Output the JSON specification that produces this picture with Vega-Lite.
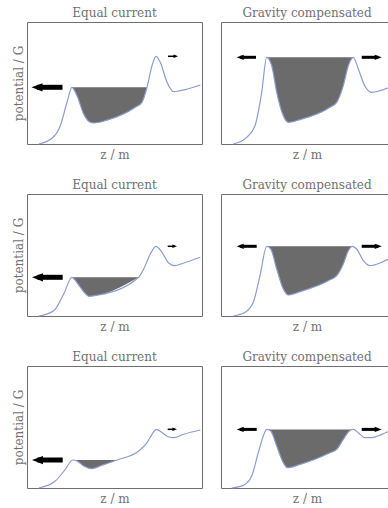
{
  "$schema": "https://vega.github.io/schema/vega-lite/v6.json",
  "background": "white",
  "padding": {"left": 11, "top": 6, "right": 0, "bottom": 0},
  "config": {
    "font": "DejaVu Serif",
    "view": {"stroke": "#6e6e6e", "strokeWidth": 1},
    "title": {"font": "DejaVu Serif", "fontSize": 12, "fontWeight": "normal", "color": "#707070", "offset": 2},
    "axis": {"domain": false, "ticks": false, "labels": false, "grid": false, "titleFont": "DejaVu Serif", "titleFontSize": 12, "titleFontWeight": "normal", "titleColor": "#707070"},
    "axisX": {"titlePadding": 5},
    "axisY": {"titlePadding": 2}
  },
  "datasets": {
    "curve": [
      {"p": "1L", "x": 11.7, "y": 0}, {"p": "1L", "x": 25, "y": 5.7}, {"p": "1L", "x": 33.3, "y": 18.3}, {"p": "1L", "x": 40, "y": 41.7}, {"p": "1L", "x": 45, "y": 56.7}, {"p": "1L", "x": 50, "y": 48.3}, {"p": "1L", "x": 56.7, "y": 30}, {"p": "1L", "x": 62.3, "y": 22.3}, {"p": "1L", "x": 67, "y": 21}, {"p": "1L", "x": 80, "y": 23.8}, {"p": "1L", "x": 108.3, "y": 36.7}, {"p": "1L", "x": 115, "y": 41.7}, {"p": "1L", "x": 120, "y": 56.7}, {"p": "1L", "x": 125, "y": 78.3}, {"p": "1L", "x": 129, "y": 87.7}, {"p": "1L", "x": 133.3, "y": 81.7}, {"p": "1L", "x": 140, "y": 61.7}, {"p": "1L", "x": 146.7, "y": 52.3}, {"p": "1L", "x": 153.3, "y": 53.3}, {"p": "1L", "x": 173.3, "y": 59},
      {"p": "1R", "x": 12.3, "y": 0}, {"p": "1R", "x": 25.7, "y": 6.7}, {"p": "1R", "x": 34, "y": 18.3}, {"p": "1R", "x": 40.7, "y": 51.7}, {"p": "1R", "x": 45.7, "y": 86.7}, {"p": "1R", "x": 50.7, "y": 78.3}, {"p": "1R", "x": 55.7, "y": 51.7}, {"p": "1R", "x": 62.3, "y": 28.3}, {"p": "1R", "x": 67.3, "y": 21.7}, {"p": "1R", "x": 79, "y": 24.3}, {"p": "1R", "x": 109, "y": 36.7}, {"p": "1R", "x": 115.7, "y": 41.7}, {"p": "1R", "x": 122.3, "y": 58.3}, {"p": "1R", "x": 127.3, "y": 78.3}, {"p": "1R", "x": 132.3, "y": 86.7}, {"p": "1R", "x": 137.3, "y": 75}, {"p": "1R", "x": 144, "y": 57.7}, {"p": "1R", "x": 150.7, "y": 51.7}, {"p": "1R", "x": 159, "y": 53.3}, {"p": "1R", "x": 170.7, "y": 57.7},
      {"p": "2L", "x": 11.7, "y": 0}, {"p": "2L", "x": 26.7, "y": 5.3}, {"p": "2L", "x": 36.7, "y": 22}, {"p": "2L", "x": 45, "y": 38.7}, {"p": "2L", "x": 51.7, "y": 31}, {"p": "2L", "x": 57, "y": 24}, {"p": "2L", "x": 62.3, "y": 19.7}, {"p": "2L", "x": 71.7, "y": 21}, {"p": "2L", "x": 111.7, "y": 38.7}, {"p": "2L", "x": 116.7, "y": 47}, {"p": "2L", "x": 123.3, "y": 62}, {"p": "2L", "x": 129, "y": 69.7}, {"p": "2L", "x": 135, "y": 63.7}, {"p": "2L", "x": 141.7, "y": 53}, {"p": "2L", "x": 147.7, "y": 50.3}, {"p": "2L", "x": 156.7, "y": 53}, {"p": "2L", "x": 173.3, "y": 58.7},
      {"p": "2R", "x": 12.3, "y": 0}, {"p": "2R", "x": 24, "y": 3.7}, {"p": "2R", "x": 32.3, "y": 13.7}, {"p": "2R", "x": 39, "y": 40.3}, {"p": "2R", "x": 45.7, "y": 69.7}, {"p": "2R", "x": 49.7, "y": 67}, {"p": "2R", "x": 55.7, "y": 47}, {"p": "2R", "x": 62.3, "y": 27}, {"p": "2R", "x": 67.3, "y": 21}, {"p": "2R", "x": 79, "y": 24.3}, {"p": "2R", "x": 107.3, "y": 35.3}, {"p": "2R", "x": 115.7, "y": 40.3}, {"p": "2R", "x": 122.3, "y": 52}, {"p": "2R", "x": 127.3, "y": 65.3}, {"p": "2R", "x": 131.3, "y": 69.7}, {"p": "2R", "x": 135.7, "y": 67}, {"p": "2R", "x": 142.3, "y": 55.3}, {"p": "2R", "x": 149, "y": 50.3}, {"p": "2R", "x": 159, "y": 53}, {"p": "2R", "x": 170.7, "y": 58.7},
      {"p": "3L", "x": 11.7, "y": 0}, {"p": "3L", "x": 28.3, "y": 7}, {"p": "3L", "x": 38.3, "y": 18.7}, {"p": "3L", "x": 45.7, "y": 28}, {"p": "3L", "x": 50, "y": 27}, {"p": "3L", "x": 56.7, "y": 22}, {"p": "3L", "x": 65, "y": 19.3}, {"p": "3L", "x": 75, "y": 22.7}, {"p": "3L", "x": 90, "y": 28}, {"p": "3L", "x": 111.7, "y": 37}, {"p": "3L", "x": 120, "y": 45.3}, {"p": "3L", "x": 125, "y": 53.7}, {"p": "3L", "x": 129.3, "y": 58.7}, {"p": "3L", "x": 134.3, "y": 56}, {"p": "3L", "x": 141, "y": 51.3}, {"p": "3L", "x": 146.7, "y": 50.3}, {"p": "3L", "x": 156.7, "y": 53.7}, {"p": "3L", "x": 173.3, "y": 58},
      {"p": "3R", "x": 10.7, "y": 0}, {"p": "3R", "x": 22.3, "y": 2.6}, {"p": "3R", "x": 30.7, "y": 12}, {"p": "3R", "x": 37.3, "y": 35.3}, {"p": "3R", "x": 42.3, "y": 52}, {"p": "3R", "x": 45.7, "y": 58.6}, {"p": "3R", "x": 49.7, "y": 57}, {"p": "3R", "x": 55.7, "y": 42}, {"p": "3R", "x": 62.3, "y": 25.3}, {"p": "3R", "x": 66.3, "y": 20.3}, {"p": "3R", "x": 79, "y": 23.6}, {"p": "3R", "x": 109, "y": 35.3}, {"p": "3R", "x": 115.7, "y": 38.6}, {"p": "3R", "x": 122.3, "y": 48.6}, {"p": "3R", "x": 128.3, "y": 57}, {"p": "3R", "x": 132.3, "y": 58.6}, {"p": "3R", "x": 137.3, "y": 55.3}, {"p": "3R", "x": 144, "y": 50.3}, {"p": "3R", "x": 150.7, "y": 50.3}, {"p": "3R", "x": 160.7, "y": 53.6}, {"p": "3R", "x": 170.7, "y": 58}
    ],
    "shade": [
      {"p": "1L", "x": 45, "y": 56.7, "top": 56.7}, {"p": "1L", "x": 50, "y": 48.3, "top": 56.7}, {"p": "1L", "x": 56.7, "y": 30, "top": 56.7}, {"p": "1L", "x": 62.3, "y": 22.3, "top": 56.7}, {"p": "1L", "x": 67, "y": 21, "top": 56.7}, {"p": "1L", "x": 80, "y": 23.8, "top": 56.7}, {"p": "1L", "x": 108.3, "y": 36.7, "top": 56.7}, {"p": "1L", "x": 115, "y": 41.7, "top": 56.7}, {"p": "1L", "x": 120, "y": 56.7, "top": 56.7},
      {"p": "1R", "x": 45.7, "y": 86.7, "top": 86.7}, {"p": "1R", "x": 50.7, "y": 78.3, "top": 86.7}, {"p": "1R", "x": 55.7, "y": 51.7, "top": 86.7}, {"p": "1R", "x": 62.3, "y": 28.3, "top": 86.7}, {"p": "1R", "x": 67.3, "y": 21.7, "top": 86.7}, {"p": "1R", "x": 79, "y": 24.3, "top": 86.7}, {"p": "1R", "x": 109, "y": 36.7, "top": 86.7}, {"p": "1R", "x": 115.7, "y": 41.7, "top": 86.7}, {"p": "1R", "x": 122.3, "y": 58.3, "top": 86.7}, {"p": "1R", "x": 127.3, "y": 78.3, "top": 86.7}, {"p": "1R", "x": 132.3, "y": 86.7, "top": 86.7},
      {"p": "2L", "x": 45, "y": 38.7, "top": 38.7}, {"p": "2L", "x": 51.7, "y": 31, "top": 38.7}, {"p": "2L", "x": 57, "y": 24, "top": 38.7}, {"p": "2L", "x": 62.3, "y": 19.7, "top": 38.7}, {"p": "2L", "x": 71.7, "y": 21, "top": 38.7}, {"p": "2L", "x": 111.7, "y": 38.7, "top": 38.7},
      {"p": "2R", "x": 45.7, "y": 69.7, "top": 69.7}, {"p": "2R", "x": 49.7, "y": 67, "top": 69.7}, {"p": "2R", "x": 55.7, "y": 47, "top": 69.7}, {"p": "2R", "x": 62.3, "y": 27, "top": 69.7}, {"p": "2R", "x": 67.3, "y": 21, "top": 69.7}, {"p": "2R", "x": 79, "y": 24.3, "top": 69.7}, {"p": "2R", "x": 107.3, "y": 35.3, "top": 69.7}, {"p": "2R", "x": 115.7, "y": 40.3, "top": 69.7}, {"p": "2R", "x": 122.3, "y": 52, "top": 69.7}, {"p": "2R", "x": 127.3, "y": 65.3, "top": 69.7}, {"p": "2R", "x": 131.3, "y": 69.7, "top": 69.7},
      {"p": "3L", "x": 45.7, "y": 28, "top": 28}, {"p": "3L", "x": 50, "y": 27, "top": 28}, {"p": "3L", "x": 56.7, "y": 22, "top": 28}, {"p": "3L", "x": 65, "y": 19.3, "top": 28}, {"p": "3L", "x": 75, "y": 22.7, "top": 28}, {"p": "3L", "x": 90, "y": 28, "top": 28},
      {"p": "3R", "x": 45.7, "y": 58.6, "top": 58.6}, {"p": "3R", "x": 49.7, "y": 57, "top": 58.6}, {"p": "3R", "x": 55.7, "y": 42, "top": 58.6}, {"p": "3R", "x": 62.3, "y": 25.3, "top": 58.6}, {"p": "3R", "x": 66.3, "y": 20.3, "top": 58.6}, {"p": "3R", "x": 79, "y": 23.6, "top": 58.6}, {"p": "3R", "x": 109, "y": 35.3, "top": 58.6}, {"p": "3R", "x": 115.7, "y": 38.6, "top": 58.6}, {"p": "3R", "x": 122.3, "y": 48.6, "top": 58.6}, {"p": "3R", "x": 128.3, "y": 57, "top": 58.6}, {"p": "3R", "x": 132.3, "y": 58.6, "top": 58.6}
    ],
    "arrows": [
      {"p": "1L", "x": 10, "xt": 35.5, "y": 56.7, "dir": "left", "mag": 3},
      {"p": "1L", "x": 148.8, "xt": 141, "y": 87.7, "dir": "right", "mag": 1},
      {"p": "1R", "x": 19.2, "xt": 35, "y": 86.7, "dir": "left", "mag": 2},
      {"p": "1R", "x": 157.2, "xt": 140.7, "y": 86.7, "dir": "right", "mag": 2},
      {"p": "2L", "x": 10.5, "xt": 35.7, "y": 38.7, "dir": "left", "mag": 3},
      {"p": "2L", "x": 147.7, "xt": 140.7, "y": 69.7, "dir": "right", "mag": 1},
      {"p": "2R", "x": 19.2, "xt": 35.7, "y": 69.7, "dir": "left", "mag": 2},
      {"p": "2R", "x": 157.2, "xt": 140.7, "y": 69.7, "dir": "right", "mag": 2},
      {"p": "3L", "x": 10.5, "xt": 35.7, "y": 28, "dir": "left", "mag": 3},
      {"p": "3L", "x": 147.7, "xt": 140.7, "y": 58.7, "dir": "right", "mag": 1},
      {"p": "3R", "x": 19.2, "xt": 35.7, "y": 58.6, "dir": "left", "mag": 2},
      {"p": "3R", "x": 157.2, "xt": 140.7, "y": 58.6, "dir": "right", "mag": 2}
    ]
  },
  "spacing": 17,
  "vconcat": [
    {"spacing": 16, "hconcat": [
      {"width": 175, "height": 122, "title": "Equal current",
       "encoding": {"x": {"field": "x", "type": "quantitative", "scale": {"domain": [0, 175], "nice": false}, "axis": {"title": "z / m"}}, "y": {"field": "y", "type": "quantitative", "scale": {"domain": [0, 122], "nice": false}, "axis": {"title": "potential / G"}}},
       "layer": [
         {"data": {"name": "shade"}, "transform": [{"filter": "datum.p == '1L'"}], "mark": {"type": "area", "interpolate": "monotone", "color": "#6b6b6b", "opacity": 1}, "encoding": {"y2": {"field": "top"}}},
         {"data": {"name": "curve"}, "transform": [{"filter": "datum.p == '1L'"}], "mark": {"type": "line", "interpolate": "monotone", "color": "#8b9dcf", "strokeWidth": 1.2}, "encoding": {}},
         {"data": {"name": "arrows"}, "transform": [{"filter": "datum.p == '1L'"}], "mark": {"type": "rule", "color": "black"}, "encoding": {"x2": {"field": "xt"}, "strokeWidth": {"field": "mag", "type": "quantitative", "scale": {"domain": [1, 2, 3], "range": [1.5, 3, 5]}, "legend": null}}},
         {"data": {"name": "arrows"}, "transform": [{"filter": "datum.p == '1L'"}], "mark": {"type": "point", "filled": true, "color": "black", "opacity": 1, "strokeWidth": 0}, "encoding": {"shape": {"field": "dir", "type": "nominal", "scale": {"domain": ["left", "right"], "range": ["M-1,0L1,-0.75L1,0.75Z", "M1,0L-1,-0.75L-1,0.75Z"]}, "legend": null}, "size": {"field": "mag", "type": "quantitative", "scale": {"domain": [1, 2, 3], "range": [20, 49, 121]}, "legend": null}}}
       ]},
      {"width": 172, "height": 122, "title": "Gravity compensated", "view": {"strokeDash": [172, 122, 1000]},
       "encoding": {"x": {"field": "x", "type": "quantitative", "scale": {"domain": [0, 172], "nice": false}, "axis": {"title": "z / m"}}, "y": {"field": "y", "type": "quantitative", "scale": {"domain": [0, 122], "nice": false}, "axis": null}},
       "layer": [
         {"data": {"name": "shade"}, "transform": [{"filter": "datum.p == '1R'"}], "mark": {"type": "area", "interpolate": "monotone", "color": "#6b6b6b", "opacity": 1}, "encoding": {"y2": {"field": "top"}}},
         {"data": {"name": "curve"}, "transform": [{"filter": "datum.p == '1R'"}], "mark": {"type": "line", "interpolate": "monotone", "color": "#8b9dcf", "strokeWidth": 1.2}, "encoding": {}},
         {"data": {"name": "arrows"}, "transform": [{"filter": "datum.p == '1R'"}], "mark": {"type": "rule", "color": "black"}, "encoding": {"x2": {"field": "xt"}, "strokeWidth": {"field": "mag", "type": "quantitative", "scale": {"domain": [1, 2, 3], "range": [1.5, 3, 5]}, "legend": null}}},
         {"data": {"name": "arrows"}, "transform": [{"filter": "datum.p == '1R'"}], "mark": {"type": "point", "filled": true, "color": "black", "opacity": 1, "strokeWidth": 0}, "encoding": {"shape": {"field": "dir", "type": "nominal", "scale": {"domain": ["left", "right"], "range": ["M-1,0L1,-0.75L1,0.75Z", "M1,0L-1,-0.75L-1,0.75Z"]}, "legend": null}, "size": {"field": "mag", "type": "quantitative", "scale": {"domain": [1, 2, 3], "range": [20, 49, 121]}, "legend": null}}}
       ]}
    ]},
    {"spacing": 16, "hconcat": [
      {"width": 175, "height": 122, "title": "Equal current",
       "encoding": {"x": {"field": "x", "type": "quantitative", "scale": {"domain": [0, 175], "nice": false}, "axis": {"title": "z / m"}}, "y": {"field": "y", "type": "quantitative", "scale": {"domain": [0, 122], "nice": false}, "axis": {"title": "potential / G"}}},
       "layer": [
         {"data": {"name": "shade"}, "transform": [{"filter": "datum.p == '2L'"}], "mark": {"type": "area", "interpolate": "monotone", "color": "#6b6b6b", "opacity": 1}, "encoding": {"y2": {"field": "top"}}},
         {"data": {"name": "curve"}, "transform": [{"filter": "datum.p == '2L'"}], "mark": {"type": "line", "interpolate": "monotone", "color": "#8b9dcf", "strokeWidth": 1.2}, "encoding": {}},
         {"data": {"name": "arrows"}, "transform": [{"filter": "datum.p == '2L'"}], "mark": {"type": "rule", "color": "black"}, "encoding": {"x2": {"field": "xt"}, "strokeWidth": {"field": "mag", "type": "quantitative", "scale": {"domain": [1, 2, 3], "range": [1.5, 3, 5]}, "legend": null}}},
         {"data": {"name": "arrows"}, "transform": [{"filter": "datum.p == '2L'"}], "mark": {"type": "point", "filled": true, "color": "black", "opacity": 1, "strokeWidth": 0}, "encoding": {"shape": {"field": "dir", "type": "nominal", "scale": {"domain": ["left", "right"], "range": ["M-1,0L1,-0.75L1,0.75Z", "M1,0L-1,-0.75L-1,0.75Z"]}, "legend": null}, "size": {"field": "mag", "type": "quantitative", "scale": {"domain": [1, 2, 3], "range": [20, 49, 121]}, "legend": null}}}
       ]},
      {"width": 172, "height": 122, "title": "Gravity compensated", "view": {"strokeDash": [172, 122, 1000]},
       "encoding": {"x": {"field": "x", "type": "quantitative", "scale": {"domain": [0, 172], "nice": false}, "axis": {"title": "z / m"}}, "y": {"field": "y", "type": "quantitative", "scale": {"domain": [0, 122], "nice": false}, "axis": null}},
       "layer": [
         {"data": {"name": "shade"}, "transform": [{"filter": "datum.p == '2R'"}], "mark": {"type": "area", "interpolate": "monotone", "color": "#6b6b6b", "opacity": 1}, "encoding": {"y2": {"field": "top"}}},
         {"data": {"name": "curve"}, "transform": [{"filter": "datum.p == '2R'"}], "mark": {"type": "line", "interpolate": "monotone", "color": "#8b9dcf", "strokeWidth": 1.2}, "encoding": {}},
         {"data": {"name": "arrows"}, "transform": [{"filter": "datum.p == '2R'"}], "mark": {"type": "rule", "color": "black"}, "encoding": {"x2": {"field": "xt"}, "strokeWidth": {"field": "mag", "type": "quantitative", "scale": {"domain": [1, 2, 3], "range": [1.5, 3, 5]}, "legend": null}}},
         {"data": {"name": "arrows"}, "transform": [{"filter": "datum.p == '2R'"}], "mark": {"type": "point", "filled": true, "color": "black", "opacity": 1, "strokeWidth": 0}, "encoding": {"shape": {"field": "dir", "type": "nominal", "scale": {"domain": ["left", "right"], "range": ["M-1,0L1,-0.75L1,0.75Z", "M1,0L-1,-0.75L-1,0.75Z"]}, "legend": null}, "size": {"field": "mag", "type": "quantitative", "scale": {"domain": [1, 2, 3], "range": [20, 49, 121]}, "legend": null}}}
       ]}
    ]},
    {"spacing": 16, "hconcat": [
      {"width": 175, "height": 122, "title": "Equal current",
       "encoding": {"x": {"field": "x", "type": "quantitative", "scale": {"domain": [0, 175], "nice": false}, "axis": {"title": "z / m"}}, "y": {"field": "y", "type": "quantitative", "scale": {"domain": [0, 122], "nice": false}, "axis": {"title": "potential / G"}}},
       "layer": [
         {"data": {"name": "shade"}, "transform": [{"filter": "datum.p == '3L'"}], "mark": {"type": "area", "interpolate": "monotone", "color": "#6b6b6b", "opacity": 1}, "encoding": {"y2": {"field": "top"}}},
         {"data": {"name": "curve"}, "transform": [{"filter": "datum.p == '3L'"}], "mark": {"type": "line", "interpolate": "monotone", "color": "#8b9dcf", "strokeWidth": 1.2}, "encoding": {}},
         {"data": {"name": "arrows"}, "transform": [{"filter": "datum.p == '3L'"}], "mark": {"type": "rule", "color": "black"}, "encoding": {"x2": {"field": "xt"}, "strokeWidth": {"field": "mag", "type": "quantitative", "scale": {"domain": [1, 2, 3], "range": [1.5, 3, 5]}, "legend": null}}},
         {"data": {"name": "arrows"}, "transform": [{"filter": "datum.p == '3L'"}], "mark": {"type": "point", "filled": true, "color": "black", "opacity": 1, "strokeWidth": 0}, "encoding": {"shape": {"field": "dir", "type": "nominal", "scale": {"domain": ["left", "right"], "range": ["M-1,0L1,-0.75L1,0.75Z", "M1,0L-1,-0.75L-1,0.75Z"]}, "legend": null}, "size": {"field": "mag", "type": "quantitative", "scale": {"domain": [1, 2, 3], "range": [20, 49, 121]}, "legend": null}}}
       ]},
      {"width": 172, "height": 122, "title": "Gravity compensated", "view": {"strokeDash": [172, 122, 1000]},
       "encoding": {"x": {"field": "x", "type": "quantitative", "scale": {"domain": [0, 172], "nice": false}, "axis": {"title": "z / m"}}, "y": {"field": "y", "type": "quantitative", "scale": {"domain": [0, 122], "nice": false}, "axis": null}},
       "layer": [
         {"data": {"name": "shade"}, "transform": [{"filter": "datum.p == '3R'"}], "mark": {"type": "area", "interpolate": "monotone", "color": "#6b6b6b", "opacity": 1}, "encoding": {"y2": {"field": "top"}}},
         {"data": {"name": "curve"}, "transform": [{"filter": "datum.p == '3R'"}], "mark": {"type": "line", "interpolate": "monotone", "color": "#8b9dcf", "strokeWidth": 1.2}, "encoding": {}},
         {"data": {"name": "arrows"}, "transform": [{"filter": "datum.p == '3R'"}], "mark": {"type": "rule", "color": "black"}, "encoding": {"x2": {"field": "xt"}, "strokeWidth": {"field": "mag", "type": "quantitative", "scale": {"domain": [1, 2, 3], "range": [1.5, 3, 5]}, "legend": null}}},
         {"data": {"name": "arrows"}, "transform": [{"filter": "datum.p == '3R'"}], "mark": {"type": "point", "filled": true, "color": "black", "opacity": 1, "strokeWidth": 0}, "encoding": {"shape": {"field": "dir", "type": "nominal", "scale": {"domain": ["left", "right"], "range": ["M-1,0L1,-0.75L1,0.75Z", "M1,0L-1,-0.75L-1,0.75Z"]}, "legend": null}, "size": {"field": "mag", "type": "quantitative", "scale": {"domain": [1, 2, 3], "range": [20, 49, 121]}, "legend": null}}}
       ]}
    ]}
  ]
}
